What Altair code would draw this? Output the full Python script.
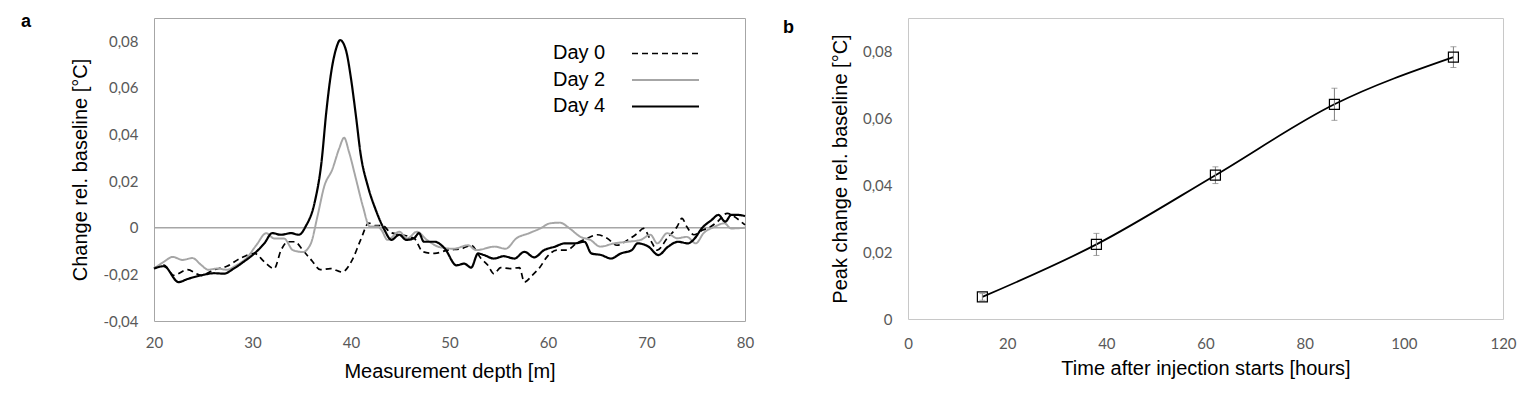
import altair as alt
import pandas as pd

# ---------------- Panel a data ----------------
series_names = ["Day 0", "Day 2", "Day 4"]

depth_day0 = [20, 21, 22, 23.4, 24.8, 26.1, 27.4, 28.8, 30.2, 31.2, 32.2, 32.9, 33.6, 34.3, 35.1, 36.0,
              36.9, 37.9, 39.1, 40.1, 41.0, 41.8, 42.5, 43.2, 44.0, 45.1, 46.4, 47.3, 48.5, 49.8, 51.2,
              52.2, 53.2, 53.9, 54.5, 55.2, 56.2, 57.1, 57.6, 58.4, 59.2, 59.9, 60.9, 61.9, 62.9, 64.0,
              65.0, 66.0, 67.0, 68.1, 69.1, 69.7, 70.4, 71.1, 72.1, 73.1, 73.6, 74.1, 74.8, 75.7, 76.5,
              77.2, 78.2, 78.9, 79.6, 80]
change_day0 = [-0.0175, -0.016, -0.0204, -0.018, -0.0204, -0.018, -0.0165, -0.013, -0.011, -0.0146,
               -0.0175, -0.0096, -0.006, -0.006, -0.0096, -0.014, -0.018, -0.0175, -0.019, -0.014,
               -0.005, 0.002, 0.0009, 0.0009, -0.002, -0.003, -0.0045, -0.0103, -0.011, -0.0096,
               -0.009, -0.0075, -0.0132, -0.0161, -0.0197, -0.0171, -0.0175, -0.0171, -0.0233, -0.0204,
               -0.0168, -0.0125, -0.0096, -0.0096, -0.0067, -0.0045, -0.003, -0.0045, -0.0075, -0.0052,
               -0.0023, -0.0003, -0.0052, -0.0096, -0.0045, 0.0004, 0.004, 0.0004, -0.003, -0.001,
               0.0004, 0.0026, 0.0062, 0.0048, 0.0026, 0.0012]

depth_day2 = [20, 21, 21.9, 22.9, 23.9, 24.8, 25.5, 26.4, 27.4, 28.4, 29.4, 30.4, 31.4, 32.2, 33.2, 34.1,
              35.1, 35.9, 36.6, 37.3, 38.1, 38.8, 39.3, 39.8, 40.5, 41.2, 41.9, 42.7, 43.1, 43.7, 44.9,
              45.7, 46.7, 47.7, 49.0, 50.4, 51.9, 52.7, 54.6, 55.7, 56.8, 58.1, 59.2, 60.2, 61.2, 62.2,
              63.3, 64.3, 65.3, 66.7, 68.1, 69.4, 70.4, 71.1, 72.1, 73.1, 74.1, 75.0, 75.8, 76.9, 77.9,
              78.6, 80]
change_day2 = [-0.0175, -0.0146, -0.0125, -0.0138, -0.013, -0.016, -0.018, -0.0175, -0.018, -0.016,
               -0.013, -0.0074, -0.0023, -0.0046, -0.0046, -0.0096, -0.0104, -0.007, 0.005, 0.018,
               0.025, 0.034, 0.0386, 0.0325, 0.021, 0.0093, 0.0006, 0.0006, -0.001, -0.0052,
               -0.0017, -0.0046, -0.0017, -0.0052, -0.0083, -0.009, -0.0075, -0.0096, -0.0081, -0.009,
               -0.0045, -0.0023, -0.0003, 0.0019, 0.0022, -0.0003, -0.0039, -0.0052, -0.0081, -0.0067,
               -0.006, -0.0052, -0.003, -0.0067, -0.0023, -0.0045, -0.0039, -0.0067, -0.0023, 0.0004,
               0.0019, -0.0003, 0.0]

depth_day4 = [20, 21, 22.5, 23.4, 24.8, 26.1, 27.1, 28.1, 29.1, 30.2, 31.2, 32, 32.9, 33.9, 34.7, 35.4,
              36.3, 37.0, 37.5, 38.0, 38.5, 38.9, 39.5, 40.0, 40.5, 41.0, 41.7, 42.5, 43.4, 44.1, 44.9,
              45.6, 46.4, 46.9, 47.4, 48.5, 49.5, 50.7, 51.5, 52.2, 52.9, 53.5, 54.5, 55.5, 56.6, 57.6,
              58.6, 59.6, 60.7, 61.7, 62.7, 63.7, 64.4, 65.4, 66.4, 67.4, 68.5, 69.1, 70.2, 71.2, 72.2,
              73.2, 74.2, 74.9, 75.6, 76.6, 77.3, 78.0, 78.6, 79.3, 80]
change_day4 = [-0.0175, -0.0165, -0.0233, -0.022, -0.0204, -0.0195, -0.0197, -0.0175, -0.0146, -0.011,
               -0.0067, -0.0023, -0.003, -0.0023, -0.003, 0.0006, 0.0107, 0.028, 0.050, 0.067,
               0.077, 0.0805, 0.076, 0.064, 0.048, 0.031, 0.018, 0.0078, -0.0009, -0.0052,
               -0.003, -0.0052, -0.0045, -0.0023, -0.006, -0.006, -0.0088, -0.0161, -0.0154, -0.0171,
               -0.011, -0.0117, -0.0132, -0.0122, -0.0132, -0.0103, -0.0127, -0.0096, -0.0081, -0.0067,
               -0.0067, -0.006, -0.011, -0.0117, -0.0132, -0.011, -0.0096, -0.0067, -0.0081, -0.0117,
               -0.0081, -0.006, -0.0067, -0.0045, -0.0003, 0.0033, 0.0055, 0.0026, 0.0055, 0.0055, 0.005]

# ---------------- Panel b data ----------------
hours = [15, 38, 62, 86, 110]
peak_change = [0.0066, 0.0223, 0.0430, 0.0642, 0.0783]
peak_error = [0.0010, 0.0033, 0.0025, 0.0048, 0.0031]

# ---------------- tables ----------------
rows = []
for name, ds, vs in zip(series_names, [depth_day0, depth_day2, depth_day4],
                        [change_day0, change_day2, change_day4]):
    for i, (d, v) in enumerate(zip(ds, vs)):
        rows.append({"series": name, "depth": d, "change": v, "order": i})
df_a = pd.DataFrame(rows)
legend_df = pd.DataFrame({"series": series_names, "i": list(range(len(series_names)))})

df_b = pd.DataFrame({"hours": hours, "peak": peak_change})
df_b["lo"] = df_b["peak"] - pd.Series(peak_error)
df_b["hi"] = df_b["peak"] + pd.Series(peak_error)

TITLE_FONT = "Liberation Sans"
TICK_FONT = "Lato"
TITLE_SIZE = 20
LABEL_EXPR = ("datum.value == 0 ? '0' : (datum.value < 0 ? '-' : '') + "
              "replace(format(abs(datum.value), '.2f'), '.', ',')")


def axis(title, values, label_expr=None, pad=15, tpad=10):
    kw = dict(title=title, values=values, grid=False, ticks=False, domain=False,
              labelFont=TICK_FONT, labelFontSize=15, labelColor="#595959", labelPadding=pad,
              labelFlush=False, labelOverlap=False,
              titleFont=TITLE_FONT, titleFontSize=TITLE_SIZE, titleFontWeight="normal",
              titleColor="#000000", titlePadding=tpad)
    if label_expr:
        kw["labelExpr"] = label_expr
    return alt.Axis(**kw)


color_scale = alt.Scale(domain=series_names, range=["#000000", "#A6A6A6", "#000000"])
dash_scale = alt.Scale(domain=series_names, range=[[6, 4], [1, 0], [1, 0]])
width_scale = alt.Scale(domain=series_names, range=[1.7, 2.2, 2.2])

xa = alt.X("depth:Q", scale=alt.Scale(domain=[20, 80], nice=False, zero=False),
           axis=axis("Measurement depth [m]", list(range(20, 81, 10)), pad=14, tpad=11))
ya = alt.Y("change:Q", scale=alt.Scale(domain=[-0.04, 0.09], nice=False, zero=False),
           axis=axis("Change rel. baseline [°C]", [-0.04, -0.02, 0, 0.02, 0.04, 0.06, 0.08], LABEL_EXPR,
                     pad=16, tpad=12))

zero_line = alt.Chart(pd.DataFrame({"z": [0.0]})).mark_rule(color="#A6A6A6", strokeWidth=1.3).encode(
    y=alt.Y("z:Q"))

lines = alt.Chart(df_a).mark_line(interpolate="monotone").encode(
    x=xa, y=ya,
    color=alt.Color("series:N", scale=color_scale, legend=None),
    strokeDash=alt.StrokeDash("series:N", scale=dash_scale, legend=None),
    strokeWidth=alt.StrokeWidth("series:N", scale=width_scale, legend=None),
    order="order:Q",
)

label_a = alt.Chart(pd.DataFrame({"t": ["a"]})).mark_text(
    align="left", baseline="alphabetic", font=TITLE_FONT, fontSize=18, fontWeight="bold", color="#000000"
).encode(text="t:N", x=alt.value(-133), y=alt.value(9))

leg_text = alt.Chart(legend_df).transform_calculate(ty="41 + datum.i * 26.5").mark_text(
    align="left", baseline="alphabetic", font=TITLE_FONT, fontSize=TITLE_SIZE, color="#000000"
).encode(text="series:N", x=alt.value(399), y=alt.Y("ty:Q", scale=None, axis=None))

leg_rule = alt.Chart(legend_df).transform_calculate(ry="35.5 + datum.i * 26.5").mark_rule().encode(
    x=alt.value(478), x2=alt.value(545), y=alt.Y("ry:Q", scale=None, axis=None),
    color=alt.Color("series:N", scale=color_scale, legend=None),
    strokeDash=alt.StrokeDash("series:N", scale=dash_scale, legend=None),
    strokeWidth=alt.StrokeWidth("series:N", scale=width_scale, legend=None),
)

panel_a = alt.layer(
    alt.layer(zero_line, lines, label_a),
    alt.layer(leg_text, leg_rule),
).resolve_scale(y="independent").properties(
    width=591, height=303, view=alt.ViewBackground(stroke="#A6A6A6", strokeWidth=1))

# ---------------- panel b ----------------
xb = alt.X("hours:Q", scale=alt.Scale(domain=[0, 120], nice=False),
           axis=axis("Time after injection starts [hours]", list(range(0, 121, 20)), pad=17, tpad=7))
yb = alt.Y("peak:Q", scale=alt.Scale(domain=[0, 0.09], nice=False),
           axis=axis("Peak change rel. baseline [°C]", [0, 0.02, 0.04, 0.06, 0.08], LABEL_EXPR,
                     pad=16, tpad=12))

base_b = alt.Chart(df_b)
err_rule = base_b.mark_rule(color="#7F7F7F", strokeWidth=1).encode(x=xb, y=alt.Y("lo:Q"), y2="hi:Q")
cap_lo = base_b.mark_tick(orient="horizontal", size=6, thickness=1, color="#7F7F7F").encode(
    x=xb, y=alt.Y("lo:Q"))
cap_hi = base_b.mark_tick(orient="horizontal", size=6, thickness=1, color="#7F7F7F").encode(
    x=xb, y=alt.Y("hi:Q"))
line_b = base_b.mark_line(interpolate="monotone", color="#000000", strokeWidth=1.8).encode(x=xb, y=yb)
pts_b = base_b.mark_point(shape="square", size=100, filled=False, color="#000000", strokeWidth=1.2,
                          opacity=1).encode(x=xb, y=yb)
label_b = alt.Chart(pd.DataFrame({"t": ["b"]})).mark_text(
    align="left", baseline="alphabetic", font=TITLE_FONT, fontSize=18, fontWeight="bold", color="#000000"
).encode(text="t:N", x=alt.value(-125), y=alt.value(15))

panel_b = alt.layer(line_b, err_rule, cap_lo, cap_hi, pts_b, label_b).properties(
    width=595, height=301, view=alt.ViewBackground(stroke="#C8C8C8", strokeWidth=1))

chart = alt.hconcat(panel_a, panel_b, spacing=27).properties(
    padding={"left": 12, "top": 4, "right": 5, "bottom": 5},
    background="#FFFFFF",
)

chart.save("out.html", embed_options={"renderer": "svg", "actions": False})
